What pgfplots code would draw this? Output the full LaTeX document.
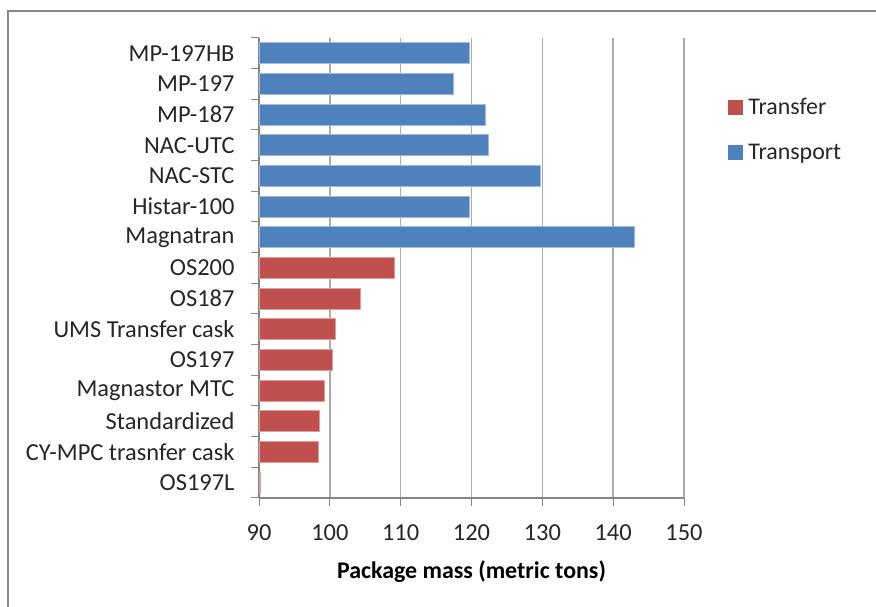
\documentclass[border=0pt]{standalone}
\usepackage{pgfplots}
\pgfplotsset{compat=1.18}
\usepackage{fontspec}
\setmainfont{Carlito}

\definecolor{transport}{HTML}{4F81BD}
\definecolor{transfer}{HTML}{C0504D}
\definecolor{gridgray}{HTML}{ABABAB}
\definecolor{axisgray}{HTML}{868686}
\definecolor{framegray}{HTML}{878787}

\begin{document}
\begin{tikzpicture}[x=1bp,y=1bp]
  \useasboundingbox (0,0) rectangle (876,607);
  % chart area frame
  \draw[framegray, line width=2bp] (8,0) -- (8,596) -- (876,596);
  \begin{axis}[
      at={(259bp,109bp)}, anchor=south west,
      scale only axis, width=425bp, height=460bp,
      xbar, bar width=21bp,
      xmin=90, xmax=150,
      ymin=-0.5, ymax=14.5,
      xtick={90,100,...,150},
      % ticks mark the category boundaries, names sit between them
      ytick={-0.5,0.5,...,14.5},
      yticklabels={},
      extra y ticks={0,...,14},
      extra y tick labels={OS197L, CY-MPC trasnfer cask, Standardized, Magnastor MTC,
        OS197, UMS Transfer cask, OS187, OS200, Magnatran, Histar-100,
        NAC-STC, NAC-UTC, MP-187, MP-197, MP-197HB},
      extra y tick style={major tick style={draw=none}, grid=none,
        yticklabel style={xshift=-13bp}},
      axis x line*=bottom, axis y line*=left,
      axis line style={-, draw=axisgray, line width=1.1bp},
      tick align=outside,
      major tick length=8bp,
      every tick/.style={draw=axisgray, line width=1bp},
      xmajorgrids,
      grid style={draw=gridgray, line width=1.6bp},
      /pgf/number format/assume math mode=true,
      tick label style={font=\fontsize{24.5}{28}\selectfont, text=black!85},
      xticklabel style={yshift=-15bp},
      xlabel={\textbf{Package mass (metric tons)}},
      xlabel style={font=\fontsize{24}{28}\selectfont, yshift=-13bp},
      legend style={draw=none, fill=none, at={(1.102,0.873)}, anchor=north west,
        font=\fontsize{24}{28}\selectfont, row sep=24bp, inner sep=0pt,
        text=black!85},
      legend cell align=left,
    ]
    \addplot[fill=transfer, draw=transfer!55!white, line width=0.8bp, bar shift=0pt,
      legend image code/.code={\fill[transfer] (0bp,-7bp) rectangle (14bp,7bp); \path (18bp,0bp);}]
      coordinates {(90.2,0) (98.4,1) (98.5,2) (99.2,3) (100.3,4) (100.8,5) (104.3,6) (109.1,7)};
    \addlegendentry{Transfer}
    \addplot[fill=transport, draw=transport!55!white, line width=0.8bp, bar shift=0pt,
      legend image code/.code={\fill[transport] (0bp,-7bp) rectangle (14bp,7bp); \path (18bp,0bp);}]
      coordinates {(143.0,8) (119.7,9) (129.7,10) (122.4,11) (121.9,12) (117.4,13) (119.7,14)};
    \addlegendentry{Transport}
  \end{axis}
\end{tikzpicture}
\end{document}
